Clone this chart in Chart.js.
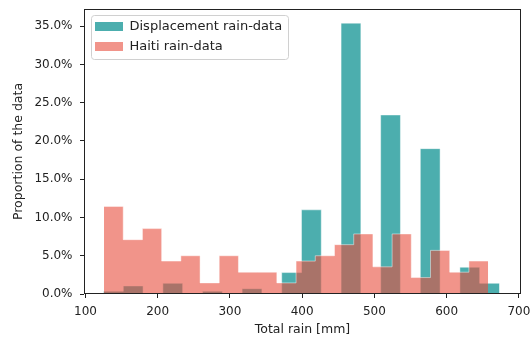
<!DOCTYPE html>
<html>
<head>
<meta charset="utf-8">
<script src="https://cdn.jsdelivr.net/npm/chart.js@4/dist/chart.umd.min.js"></script>
<style>
  html, body { margin: 0; padding: 0; background: #fff; }
  #wrap { width: 531px; height: 341px; }
</style>
</head>
<body>
<div id="wrap"><canvas id="rainChart" width="531" height="341"></canvas></div>
<script>
// Histogram bin edges (mm) and the share of rows in each bin (%)
const seriesNames = ['Displacement rain-data', 'Haiti rain-data'];

const displacementEdges = [125.0, 152.4, 179.8, 207.2, 234.6, 262.1, 289.5, 316.9, 344.3, 371.7,
  399.1, 426.5, 453.9, 481.3, 508.7, 536.1, 563.6, 591.0, 618.4, 645.8, 673.2];
const displacementShare = [0.35, 1.05, 0, 1.4, 0, 0.35, 0, 0.7, 0, 2.8,
  11.0, 0, 35.4, 0, 23.4, 0, 19.0, 0, 3.5, 1.4];

const haitiEdges = [125.7, 152.3, 178.9, 205.5, 232.1, 258.7, 285.2, 311.8, 338.4, 365.0,
  391.6, 418.2, 444.8, 471.4, 498.0, 524.6, 551.1, 577.7, 604.3, 630.9, 657.5];
const haitiShare = [11.45, 7.1, 8.55, 4.3, 5.0, 1.45, 5.0, 2.85, 2.85, 1.45,
  4.3, 5.0, 6.45, 7.85, 3.55, 7.85, 2.15, 5.7, 2.85, 4.3];

const xTickValues = [100, 200, 300, 400, 500, 600, 700];
const yTickValues = [0, 5, 10, 15, 20, 25, 30, 35];

// Turn edges + bin heights into step points: each edge carries the height of the bin to its right
function stepPoints(edges, shares) {
  return edges.map((edge, i) => ({ x: edge, y: shares[Math.min(i, shares.length - 1)] }));
}

const ink = '#222222';
Chart.defaults.font.family = "'DejaVu Sans', sans-serif";
Chart.defaults.font.size = 12;
Chart.defaults.color = ink;

// Legend frame, legend offset inside the plot and the four-sided plot border
const framePlugin = {
  id: 'frames',
  afterLayout(chart) {
    const lg = chart.legend;
    const a = chart.chartArea;
    if (lg) { lg.left = a.left + 4; lg.top = a.top + 4; }
  },
  beforeDraw(chart) {
    const lg = chart.legend;
    if (!lg || !lg.legendHitBoxes || !lg.legendHitBoxes.length) return;
    const boxes = lg.legendHitBoxes;
    const left = Math.min(...boxes.map(b => b.left)) - 4;
    const top = Math.min(...boxes.map(b => b.top)) - 5;
    const right = Math.max(...boxes.map(b => b.left + b.width)) + 6;
    const bottom = Math.max(...boxes.map(b => b.top + b.height)) + 6;
    const ctx = chart.ctx;
    ctx.save();
    ctx.beginPath();
    ctx.roundRect(Math.round(left) + 0.5, Math.round(top) + 0.5,
      Math.round(right - left), Math.round(bottom - top), 3);
    ctx.fillStyle = 'rgba(255,255,255,0.8)';
    ctx.fill();
    ctx.strokeStyle = '#d0d0d0';
    ctx.lineWidth = 1;
    ctx.stroke();
    ctx.restore();
  },
  afterDatasetsDraw(chart) {
    const a = chart.chartArea;
    const ctx = chart.ctx;
    ctx.save();
    ctx.strokeStyle = ink;
    ctx.lineWidth = 1;
    ctx.strokeRect(Math.round(a.left) + 0.5, Math.round(a.top) + 0.5,
      Math.round(a.right - a.left) - 1, Math.round(a.bottom - a.top) - 1);
    ctx.restore();
  }
};

new Chart(document.getElementById('rainChart'), {
  type: 'line',
  data: {
    datasets: [
      {
        label: seriesNames[0],
        data: stepPoints(displacementEdges, displacementShare),
        stepped: 'before',
        fill: 'origin',
        backgroundColor: 'rgba(0,139,139,0.7)',
        borderColor: 'rgba(255,255,255,0.45)',
        borderWidth: 1,
        pointRadius: 0,
        order: 2
      },
      {
        label: seriesNames[1],
        data: stepPoints(haitiEdges, haitiShare),
        stepped: 'before',
        fill: 'origin',
        backgroundColor: 'rgba(231,76,60,0.6)',
        borderColor: 'rgba(255,255,255,0.45)',
        borderWidth: 1,
        pointRadius: 0,
        order: 1
      }
    ]
  },
  options: {
    responsive: false,
    animation: false,
    events: [],
    layout: { padding: { top: 9, right: 10, left: 0, bottom: 0 } },
    plugins: {
      tooltip: { enabled: false },
      legend: {
        position: 'chartArea',
        align: 'start',
        labels: {
          boxWidth: 28,
          boxHeight: 9,
          padding: 7,
          color: ink,
          font: { size: 13 },
          sort: (a, b) => a.datasetIndex - b.datasetIndex,
          generateLabels: (chart) =>
            Chart.defaults.plugins.legend.labels.generateLabels(chart)
              .map(item => Object.assign(item, { lineWidth: 0 }))
        }
      }
    },
    scales: {
      x: {
        type: 'linear',
        min: 98,
        max: 703,
        afterBuildTicks: (scale) => { scale.ticks = xTickValues.map(v => ({ value: v })); },
        afterFit: (scale) => {
          scale.height = 47;
          scale.paddingLeft = 0;
          scale.paddingRight = 0;
        },
        ticks: { padding: 7, callback: (v) => String(v), maxRotation: 0, autoSkip: false },
        grid: { drawOnChartArea: false, drawTicks: true, tickLength: 4, tickColor: ink, tickWidth: 1 },
        border: { display: false },
        title: { display: true, text: 'Total rain [mm]', font: { size: 12.5 }, padding: { top: 0, bottom: 3.5 } }
      },
      y: {
        type: 'linear',
        min: 0,
        max: 37.25,
        afterBuildTicks: (scale) => { scale.ticks = yTickValues.map(v => ({ value: v })); },
        afterFit: (scale) => {
          scale.width = 84;
          scale.paddingTop = 0;
          scale.paddingBottom = 0;
        },
        ticks: { padding: 7.5, callback: (v) => v.toFixed(1) + '%', autoSkip: false },
        grid: { drawOnChartArea: false, drawTicks: true, tickLength: 4, tickColor: ink, tickWidth: 1 },
        border: { display: false },
        title: { display: true, text: 'Proportion of the data', font: { size: 12.5 }, padding: { top: 11, bottom: 0 } }
      }
    }
  },
  plugins: [framePlugin]
});
</script>
</body>
</html>
